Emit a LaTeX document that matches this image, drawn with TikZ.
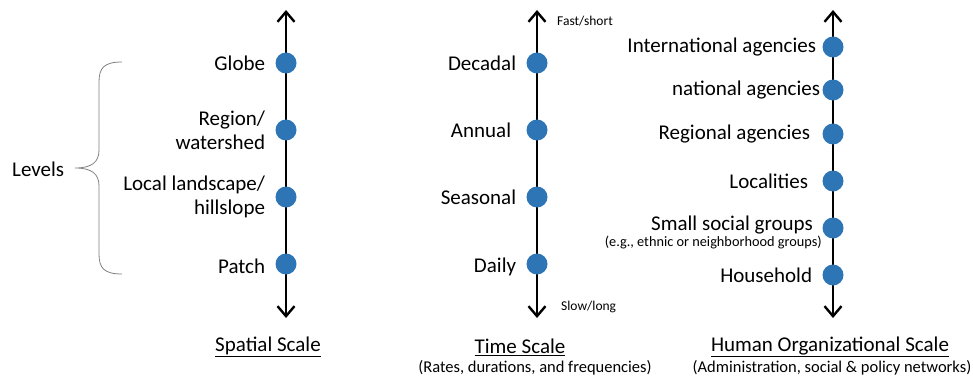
\documentclass[tikz,border=0pt]{standalone}
\usepackage{fontspec}
\setmainfont{Carlito}
\usetikzlibrary{arrows.meta, positioning}

\definecolor{dotblue}{RGB}{46,117,182}

\tikzset{
    axis/.style  = {line width = 2.4pt,
                    {Straight Barb[length = 10pt, width = 17pt]}-{Straight Barb[length = 10pt, width = 17pt]}},
    dot/.style   = {circle, fill = dotblue, inner sep = 0pt, minimum size = 21pt},
    lbl/.style   = {align = right, inner sep = 0pt, font = \fontsize{21}{24}\selectfont},
    small/.style = {inner sep = 0pt, font = \fontsize{13.5}{16}\selectfont},
    title/.style = {inner sep = 0pt, font = \fontsize{21}{24}\selectfont},
    sub/.style   = {inner sep = 0pt, font = \fontsize{16.5}{19}\selectfont},
}

\begin{document}
\begin{tikzpicture}[x = 1pt, y = -1pt]
        \useasboundingbox (0,0) rectangle (973,382);

        % spatial scale
        \coordinate (sTop) at (286,10);
        \coordinate (sBot) at (286,318);
        \draw[axis] (sBot) -- (sTop);
        \node[dot] (s1) at (286,63)  {};
        \node[dot] (s2) at (286,130) {};
        \node[dot] (s3) at (286,197) {};
        \node[dot] (s4) at (286,264) {};

        \node[lbl, left = 10pt of s1]                  (sGlobe)  {Globe};
        \node[lbl, left = 10pt of s2]                  (sRegion) {Region/\\watershed};
        \node[lbl, left = 10pt of s3]                  (sLocal)  {Local landscape/\\hillslope};
        \node[lbl, left = 10pt of s4, yshift = -2pt]   (sPatch)  {Patch};

        \node[lbl, anchor = west] (levels) at (12,169) {Levels};
        \draw[gray, line width = 0.8pt] (122,62) .. controls (104,62) and (99,68) .. (99,82)
            -- (99,150) .. controls (99,162) and (92,168) .. (75,168)
            .. controls (92,168) and (99,174) .. (99,186)
            -- (99,254) .. controls (99,268) and (104,274) .. (122,274);

        \node[title] (sTitle) at (268,347) {\underline{Spatial Scale}};

        % time scale
        \coordinate (tTop) at (537,10);
        \coordinate (tBot) at (537,318);
        \draw[axis] (tBot) -- (tTop);
        \node[dot] (t1) at (537,63)  {};
        \node[dot] (t2) at (537,130) {};
        \node[dot] (t3) at (537,197) {};
        \node[dot] (t4) at (537,264) {};

        \node[lbl, left = 10pt of t1] (tDecadal)  {Decadal};
        \node[lbl, left = 15pt of t2] (tAnnual)   {Annual};
        \node[lbl, left = 10pt of t3] (tSeasonal) {Seasonal};
        \node[lbl, left = 10pt of t4, yshift = -3pt] (tDaily) {Daily};

        \node[small, anchor = west] (tFast) at (557,21)  {Fast/short};
        \node[small, anchor = west] (tSlow) at (561,307) {Slow/long};

        \node[title] (tTitle) at (520,347) {\underline{Time Scale}};
        \node[sub]   (tSub)   at (535,368) {(Rates, durations, and frequencies)};

        % human organizational scale
        \coordinate (hTop) at (833,10);
        \coordinate (hBot) at (833,318);
        \draw[axis] (hBot) -- (hTop);
        \node[dot] (h1) at (833,47)  {};
        \node[dot] (h2) at (833,90)  {};
        \node[dot] (h3) at (833,134) {};
        \node[dot] (h4) at (833,181) {};
        \node[dot] (h5) at (833,228) {};
        \node[dot] (h6) at (833,275) {};

        \node[lbl, left = 6pt of h1]  (hInter)    {International agencies};
        \node[lbl, left = 2pt of h2]  (hNational) {national agencies};
        \node[lbl, left = 12pt of h3] (hRegional) {Regional agencies};
        \node[lbl, left = 14pt of h4] (hLocal)    {Localities};
        \node[lbl, anchor = east] (hSmall) at (813,225) {Small social groups};
        \node[small, anchor = east, font = \fontsize{14.3}{16}\selectfont] (hEg) at (822,242) {(e.g., ethnic or neighborhood groups)};
        \node[lbl, left = 10pt of h6] (hHouse)    {Household};

        \node[title] (hTitle) at (830,347) {\underline{Human Organizational Scale}};
        \node[sub]   (hSub)   at (832,368) {(Administration, social \& policy networks)};
\end{tikzpicture}
\end{document}
